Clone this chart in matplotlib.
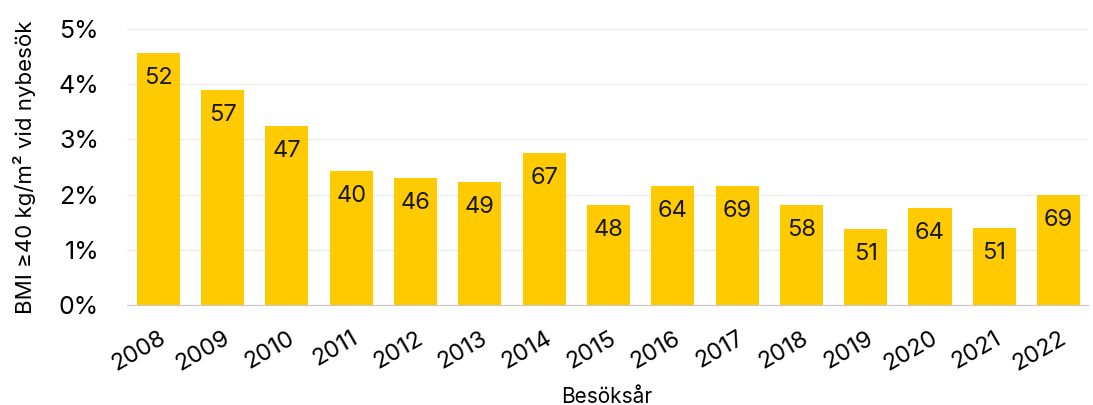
import numpy as np
from matplotlib import pyplot as plt

plt.rcParams['font.family'] = ['Inter', 'DejaVu Sans']

years = ['2008', '2009', '2010', '2011', '2012', '2013', '2014', '2015',
         '2016', '2017', '2018', '2019', '2020', '2021', '2022']
pct = [4.57, 3.89, 3.24, 2.43, 2.30, 2.23, 2.75, 1.81,
       2.16, 2.16, 1.81, 1.38, 1.76, 1.39, 1.99]
counts = [52, 57, 47, 40, 46, 49, 67, 48, 64, 69, 58, 51, 64, 51, 69]

fig, ax = plt.subplots(figsize=(10.93, 4.05), dpi=100)
fig.subplots_adjust(left=0.116, right=0.995, top=0.928, bottom=0.247)

x = np.arange(len(years))
bars = ax.bar(x, pct, width=0.67, color='#FFCB00', zorder=2)

for b, n in zip(bars, counts):
    ax.annotate(str(n), xy=(b.get_x() + b.get_width() / 2, b.get_height()),
                xytext=(0, -10), textcoords='offset points',
                ha='center', va='top', fontsize=17, color='#1a1a1a')

ax.set_xlim(-0.49, 14.45)
ax.set_ylim(0, 5)
ax.set_yticks(range(6))
ax.set_yticklabels([f'{i}%' for i in range(6)], fontsize=18)
ax.set_xticks(x)
ax.set_xticklabels(years, rotation=30, ha='right', rotation_mode='anchor', fontsize=17)
ax.tick_params(axis='y', length=0, pad=20)
ax.tick_params(axis='x', length=0, pad=16)

ax.grid(axis='y', color='#ececec', linewidth=1, zorder=0)
for s in ['top', 'right', 'left']:
    ax.spines[s].set_visible(False)
ax.spines['bottom'].set_color('#c8c8c8')

ax.set_ylabel('BMI ≥40 kg/m² vid nybesök', fontsize=16, labelpad=16)
ax.set_xlabel('Besöksår', fontsize=15, labelpad=8)

plt.savefig('out.png')
